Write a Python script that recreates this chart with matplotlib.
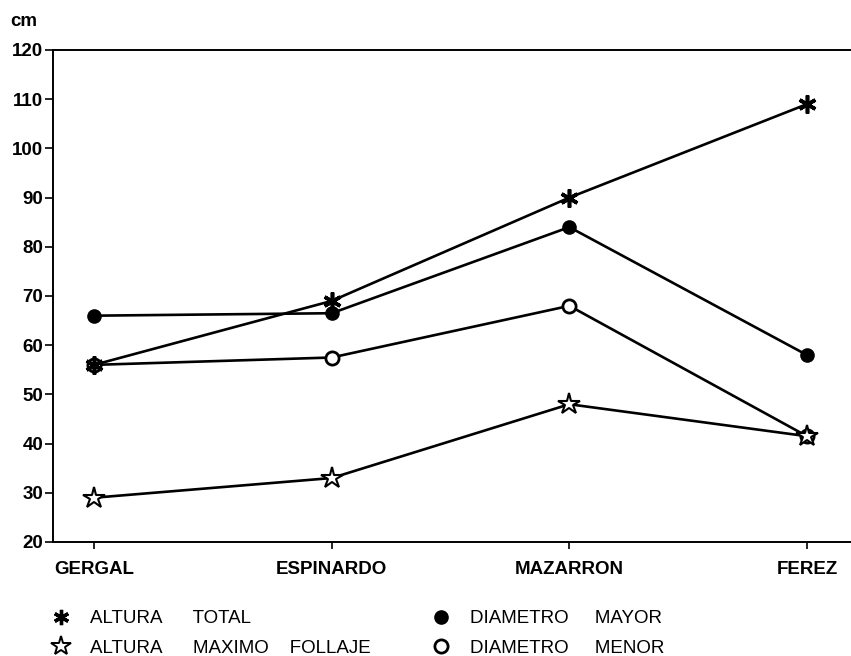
import matplotlib
matplotlib.use("Agg")
import matplotlib.pyplot as plt
from matplotlib.lines import Line2D

plt.rcParams['font.family'] = ['Liberation Sans', 'DejaVu Sans']

# data (cm)
sites = ["GERGAL", "ESPINARDO", "MAZARRON", "FEREZ"]
altura_total = [56, 69, 90, 109]
diametro_mayor = [66, 66.5, 84, 58]
diametro_menor = [56, 57.5, 68, 41.5]
altura_follaje = [29, 33, 48, 41.5]
y_ticks = list(range(20, 130, 10))

fig = plt.figure(figsize=(8.51, 6.56), dpi=100)
ax = fig.add_axes([53 / 851, 1 - 542 / 656, 1 - 53 / 851, (542 - 50) / 656])

x = list(range(len(sites)))
line_kw = dict(color='black', lw=1.9, clip_on=False, zorder=3)

ax.plot(x, diametro_mayor, marker='o', ms=9.5, mfc='black', mec='black', **line_kw)
ax.plot(x, diametro_menor, marker='o', ms=9.5, mfc='white', mec='black', mew=2, **line_kw)
ax.plot(x, altura_follaje, marker='*', ms=16, mfc='white', mec='black', mew=1.5, **line_kw)
ax.plot(x, altura_total, marker=(6, 2, 0), ms=13, mec='black', mew=2.6, **line_kw)

ax.set_xlim(-0.1725, 3.185)
ax.set_ylim(20, 120)
ax.set_yticks(y_ticks)
ax.set_yticklabels([str(v) for v in y_ticks], fontsize=13.5, fontweight='bold')
ax.set_xticks(x)
ax.set_xticklabels(sites, fontsize=13.5, fontweight='bold')
ax.tick_params(axis='y', direction='out', length=6, width=1.2, pad=1)
ax.tick_params(axis='x', direction='out', length=5, width=1.2, pad=9)

for side in ['left', 'top', 'bottom']:
    ax.spines[side].set_linewidth(1.4)
ax.spines['right'].set_visible(False)

fig.text(10 / 851, 1 - 21 / 656, "cm", fontsize=13.5, fontweight='bold', va='center')

# legend, two columns
h_total = Line2D([], [], ls='none', marker=(6, 2, 0), ms=11, mec='black', mew=2.4)
h_follaje = Line2D([], [], ls='none', marker='*', ms=15, mfc='white', mec='black', mew=1.4)
h_mayor = Line2D([], [], ls='none', marker='o', ms=9.5, mfc='black', mec='black')
h_menor = Line2D([], [], ls='none', marker='o', ms=9.5, mfc='white', mec='black', mew=2)

leg_kw = dict(frameon=False, fontsize=13.5, handlelength=1.0, handletextpad=1.0,
              labelspacing=0.67, borderpad=0, borderaxespad=0, loc='upper left')
leg1 = fig.legend([h_total, h_follaje],
                  ["ALTURA      TOTAL", "ALTURA      MAXIMO    FOLLAJE"],
                  bbox_to_anchor=(52 / 851, 1 - 610 / 656), **leg_kw)
leg2 = fig.legend([h_mayor, h_menor],
                  ["DIAMETRO     MAYOR", "DIAMETRO     MENOR"],
                  bbox_to_anchor=(432 / 851, 1 - 610 / 656), **leg_kw)

fig.savefig("out.png", dpi=100)
